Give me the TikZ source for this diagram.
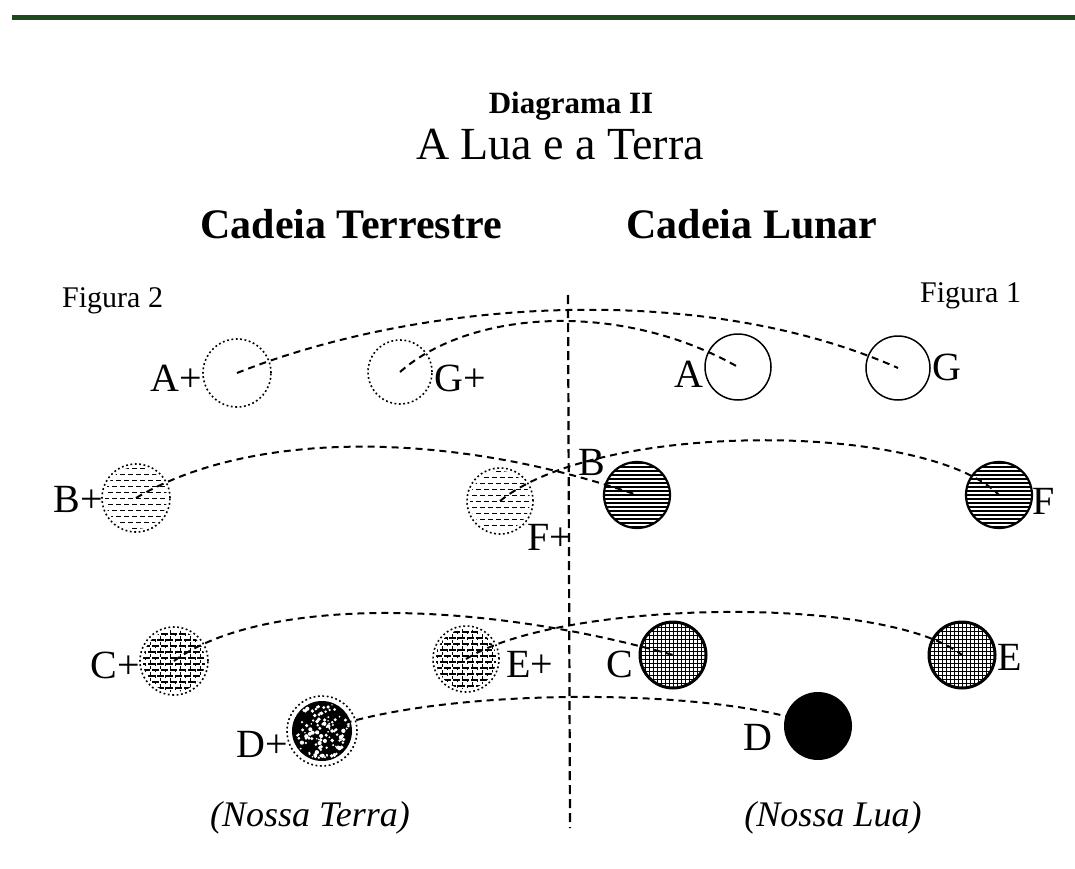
\documentclass[tikz,border=0pt]{standalone}
\usepackage{fontspec}
\setmainfont{Liberation Serif}
\definecolor{rulegreen}{RGB}{28,74,28}
\tikzset{
  orbit/.style={line width=2pt, dash pattern=on 7pt off 5pt},
  axisline/.style={line width=2.2pt, dash pattern=on 9pt off 5pt},
  dotring/.style={circle, draw, line width=1.6pt, dash pattern=on 1.8pt off 2.6pt, inner sep=0pt},
  ring/.style={circle, draw, line width=1.5pt, inner sep=0pt},
  thickring/.style={circle, draw, line width=3pt, inner sep=0pt},
  lbl/.style={inner sep=0pt, font=\fontsize{40}{44}\selectfont},
  fig/.style={inner sep=0pt, font=\fontsize{30}{34}\selectfont},
}
% textures
\newcommand\texHlines[3]{\begin{scope}\clip (#1,#2) circle (#3);
  \foreach \k in {-36,-32,...,36}{\draw[line width=1.1pt] (#1-40,#2+\k) -- (#1+40,#2+\k);}
\end{scope}}
\newcommand\texHdash[3]{\begin{scope}\clip (#1,#2) circle (#3-3);
  \foreach \k [count=\n, evaluate=\n as \ph using {mod(\n,2)*4}] in {-30,-24,...,30}{\draw[line width=1pt, dash pattern=on 5pt off 3pt, dash phase=\ph pt] (#1-40,#2+\k) -- (#1+40,#2+\k);}
\end{scope}}
\newcommand\texBrick[3]{\begin{scope}\clip (#1,#2) circle (#3-3);
  \foreach \k [count=\n, evaluate=\n as \ph using {mod(\n,2)*4}] in {-33,-27,...,33}{\draw[line width=1.1pt, dash pattern=on 7pt off 2pt, dash phase=\ph pt] (#1-40,#2+\k) -- (#1+40,#2+\k);}
  \foreach \k [count=\n, evaluate=\n as \ph using {mod(\n,2)*3}] in {-34,-29,...,34}{\draw[line width=1pt, dash pattern=on 3pt off 3pt, dash phase=\ph pt] (#1+\k,#2-40) -- (#1+\k,#2+40);}
\end{scope}}
\newcommand\texGrid[3]{\begin{scope}\clip (#1,#2) circle (#3);
  \foreach \k in {-36,-32,...,36}{\draw[line width=0.9pt] (#1-40,#2+\k) -- (#1+40,#2+\k);
    \draw[line width=0.9pt] (#1+\k,#2-40) -- (#1+\k,#2+40);}
\end{scope}}
\begin{document}
\begin{tikzpicture}[x=1pt,y=-1pt]
\useasboundingbox (0,0) rectangle (1075,869);
% top rule
\coordinate (rl) at (12,18);
\coordinate (rr) at (1075,18);
\draw[rulegreen, line width=5pt] (rl) -- (rr);

% titles
\node[anchor=base, inner sep=0pt, font=\fontsize{31}{35}\selectfont\bfseries] (t1) at (571,114) {Diagrama II};
\node[anchor=base, inner sep=0pt, font=\fontsize{46}{50}\selectfont] (t2) at (560,160) {A Lua e a Terra};
\node[anchor=base, inner sep=0pt, font=\fontsize{42}{46}\selectfont\bfseries] (h1) at (351,238) {Cadeia Terrestre};
\node[anchor=base, inner sep=0pt, font=\fontsize{42}{46}\selectfont\bfseries] (h2) at (752,238) {Cadeia Lunar};
\node[fig, anchor=base west] (f2) at (62,307) {Figura 2};
\node[fig, anchor=base west] (f1) at (920,302) {Figura 1};

% textures
\texHdash{136}{498}{34}
\texHdash{500}{501}{33}
\texHlines{637}{495}{33}
\texHlines{999}{495}{33}
\texBrick{174}{661}{34}
\texBrick{466}{659}{33}
\texGrid{673}{655}{33}
\texGrid{962}{655}{33}
% D+ blotchy fill
\fill (322,731) circle (30);
\pgfmathsetseed{7}
\foreach \i in {1,...,110}{
  \pgfmathsetmacro\aa{rnd*360}
  \pgfmathsetmacro\rr{sqrt(rnd)*28}
  \pgfmathsetmacro\ss{0.8+rnd*1.4}
  \fill[white] ({322+\rr*cos(\aa)},{731+\rr*sin(\aa)}) circle (\ss);
}

% globes
\node[dotring, minimum size=68pt] (Ap) at (237,373) {};
\node[dotring, minimum size=64pt] (Gp) at (400,372) {};
\node[ring, minimum size=66pt] (A) at (738,367) {};
\node[ring, minimum size=64pt] (G) at (898,368) {};
\node[dotring, minimum size=68pt] (Bp) at (136,498) {};
\node[dotring, minimum size=66pt] (Fp) at (500,501) {};
\node[thickring, line width=2.2pt, minimum size=66pt] (B) at (637,495) {};
\node[thickring, line width=2.2pt, minimum size=66pt] (F) at (999,495) {};
\node[dotring, minimum size=68pt] (Cp) at (174,661) {};
\node[dotring, minimum size=66pt] (Ep) at (466,659) {};
\node[thickring, minimum size=66pt] (C) at (673,655) {};
\node[thickring, minimum size=66pt] (E) at (962,655) {};
\node[dotring, minimum size=70pt] (Dp) at (322,731) {};
\node[circle, fill, inner sep=0pt, minimum size=68pt] (D) at (818,726) {};

% orbits
\draw[orbit] (Ap.center) .. controls (420,300) and (700,280) .. (G.center);
\draw[orbit] (Gp.center) .. controls (470,310) and (620,300) .. (A.center);
\draw[orbit] (Bp.center) .. controls (250,430) and (450,430) .. (B.center);
\draw[orbit] (Fp.center) .. controls (600,420) and (927,422) .. (F.center);
\draw[orbit] (Cp.center) .. controls (260,598) and (471,598) .. (C.center);
\draw[orbit] (Ep.center) .. controls (560,600) and (884,594) .. (E.center);
\draw[orbit] (Dp.center) .. controls (430,688) and (710,685) .. (D.center);

% axis
\coordinate (vtop) at (568,295);
\coordinate (vbot) at (570,828);
\draw[axisline] (vtop) -- (vbot);

% labels
\node[lbl, anchor=base east] (lAp) at (202,391) {A+};
\node[lbl, anchor=base west] (lGp) at (434,391) {G+};
\node[lbl, anchor=base east] (lA) at (704,387) {A};
\node[lbl, anchor=base west] (lG) at (932,380) {G};
\node[lbl, anchor=base east] (lBp) at (103,512) {B+};
\node[lbl, anchor=base west] (lB) at (578,475) {B};
\node[lbl, anchor=base west] (lFp) at (527,550) {F+};
\node[lbl, anchor=base west] (lF) at (1032,514) {F};
\node[lbl, anchor=base east] (lCp) at (140,678) {C+};
\node[lbl, anchor=base west] (lEp) at (506,677) {E+};
\node[lbl, anchor=base east] (lC) at (633,677) {C};
\node[lbl, anchor=base west] (lE) at (997,670) {E};
\node[lbl, anchor=base east] (lDp) at (288,757) {D+};
\node[lbl, anchor=base west] (lD) at (743,750) {D};

% captions
\node[anchor=base, inner sep=0pt, font=\fontsize{36}{40}\selectfont\itshape] (nt) at (310,826) {(Nossa Terra)};
\node[anchor=base, inner sep=0pt, font=\fontsize{36}{40}\selectfont\itshape] (nl) at (833,826) {(Nossa Lua)};
\end{tikzpicture}
\end{document}
